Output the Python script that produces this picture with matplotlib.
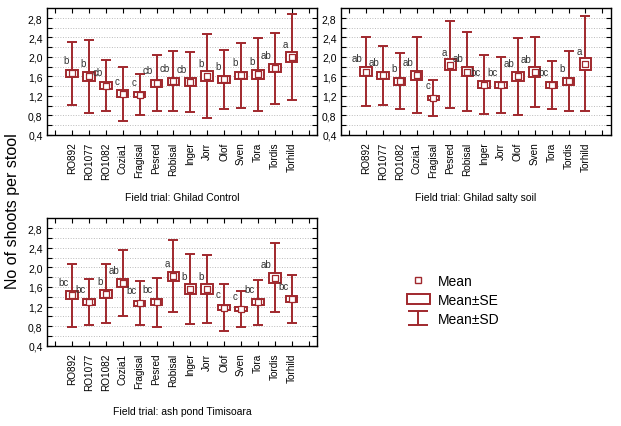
import numpy as np
import matplotlib
matplotlib.use("Agg")
import matplotlib.pyplot as plt
from matplotlib.lines import Line2D
from matplotlib.patches import Patch

plt.rcParams['font.family'] = ['Liberation Sans', 'DejaVu Sans']

# clones (same order in all three trials)
clones = ['RO892', 'RO1077', 'RO1082', 'Cozia1', 'Fragisal', 'Pesred', 'Robisal',
          'Inger', 'Jorr', 'Olof', 'Sven', 'Tora', 'Tordis', 'Torhild']

# Field trial: Ghilad Control
control_mean = [1.66, 1.60, 1.41, 1.24, 1.22, 1.46, 1.50, 1.49, 1.61, 1.54, 1.62, 1.64, 1.77, 2.00]
control_sd = [0.64, 0.75, 0.53, 0.56, 0.42, 0.58, 0.62, 0.62, 0.86, 0.61, 0.67, 0.75, 0.73, 0.88]
control_se = [0.08, 0.10, 0.065, 0.07, 0.05, 0.07, 0.07, 0.08, 0.11, 0.07, 0.08, 0.10, 0.09, 0.11]
control_groups = ['b', 'b', 'cb', 'c', 'c', 'cb', 'cb', 'cb', 'b', 'b', 'b', 'b', 'ab', 'a']

# Field trial: Ghilad salty soil
salty_mean = [1.70, 1.62, 1.50, 1.62, 1.16, 1.84, 1.70, 1.43, 1.42, 1.60, 1.69, 1.42, 1.50, 1.86]
salty_sd = [0.70, 0.61, 0.58, 0.78, 0.37, 0.89, 0.82, 0.61, 0.58, 0.79, 0.72, 0.50, 0.62, 0.98]
salty_se = [0.087, 0.08, 0.07, 0.09, 0.04, 0.11, 0.10, 0.075, 0.065, 0.095, 0.095, 0.055, 0.075, 0.12]
salty_groups = ['ab', 'ab', 'b', 'ab', 'c', 'a', 'ab', 'bc', 'bc', 'ab', 'ab', 'bc', 'b', 'a']

# Field trial: ash pond Timisoara
ash_mean = [1.43, 1.29, 1.46, 1.68, 1.27, 1.29, 1.82, 1.56, 1.56, 1.18, 1.15, 1.29, 1.79, 1.36]
ash_sd = [0.64, 0.47, 0.60, 0.68, 0.45, 0.50, 0.74, 0.72, 0.70, 0.48, 0.36, 0.46, 0.70, 0.49]
ash_se = [0.078, 0.055, 0.075, 0.09, 0.05, 0.06, 0.09, 0.105, 0.11, 0.055, 0.05, 0.06, 0.10, 0.06]
ash_groups = ['bc', 'bc', 'b', 'ab', 'bc', 'bc', 'a', 'b', 'b', 'c', 'c', 'bc', 'ab', 'bc']

red = '#a0282d'


def draw_panel(ax, mean, sd, se, groups, title, title_y):
    x = np.arange(1, len(clones) + 1)
    mean = np.array(mean)
    se = np.array(se)
    # mean +- SD whiskers, mean +- SE box, mean marker
    ax.errorbar(x, mean, yerr=sd, fmt='none', ecolor=red, elinewidth=1.4,
                capsize=3.6, capthick=1.4, zorder=2)
    ax.bar(x, 2 * se, bottom=mean - se, width=0.68, facecolor='white',
           edgecolor=red, linewidth=1.4, zorder=3)
    ax.scatter(x, mean, marker='s', s=13, facecolor='white', edgecolor=red,
               linewidths=0.9, zorder=4)
    for xi, m, g in zip(x, mean, groups):
        ax.text(xi - 0.2, m + 0.27, g, ha='right', va='center', fontsize=7,
                color='#333333')

    ax.set_xlim(-0.5, 15.5)
    ax.set_ylim(0.4, 3.0)
    ax.set_xticks(np.arange(0, 16))
    ax.set_xticklabels([''] + clones + [''], rotation=90, fontsize=7.2)
    yt = np.arange(0.4, 2.81, 0.2)
    ax.set_yticks(yt)
    ax.set_yticklabels([('%.1f' % v).replace('.', ',') if i % 2 == 0 else ''
                        for i, v in enumerate(yt)], fontsize=7.5)
    ax.tick_params(direction='in', length=3.5, width=0.8, top=True, right=True, pad=3)
    ax.tick_params(axis='x', pad=5)
    ax.grid(axis='y', color='#bbbbbb', linestyle=':', linewidth=0.7)
    ax.set_axisbelow(True)
    for s in ax.spines.values():
        s.set_linewidth(1.0)
    ax.set_xlabel(title, fontsize=7.5, va='center')
    ax.xaxis.set_label_coords(0.5, title_y)


fig = plt.figure(figsize=(6.21, 4.27), dpi=100)

ax1 = fig.add_axes([0.0752, 0.6822, 0.4353, 0.296])
ax2 = fig.add_axes([0.5486, 0.6822, 0.4348, 0.296])
ax3 = fig.add_axes([0.0752, 0.188, 0.4353, 0.298])

draw_panel(ax1, control_mean, control_sd, control_se, control_groups,
           'Field trial: Ghilad Control', -0.49)
draw_panel(ax2, salty_mean, salty_sd, salty_se, salty_groups,
           'Field trial: Ghilad salty soil', -0.49)
draw_panel(ax3, ash_mean, ash_sd, ash_se, ash_groups,
           'Field trial: ash pond Timisoara', -0.51)

fig.text(0.02, 0.505, 'No of shoots per stool', rotation=90, ha='center',
         va='center', fontsize=11.5)

# legend
mean_h = Line2D([], [], marker='s', linestyle='none', markersize=4.5,
                markerfacecolor='white', markeredgecolor=red, markeredgewidth=1)
se_h = Patch(facecolor='white', edgecolor=red, linewidth=1.4)
sd_h = ax3.errorbar([np.nan], [np.nan], yerr=[np.nan], fmt='none', ecolor=red,
                    elinewidth=1.4, capsize=7.5, capthick=1.4)
fig.legend([mean_h, se_h, sd_h], ['Mean', 'Mean±SE', 'Mean±SD'],
           loc='upper left', bbox_to_anchor=(0.655, 0.357), frameon=False,
           fontsize=10, handlelength=1.65, handleheight=0.77,
           handletextpad=0.58, labelspacing=0.38, borderpad=0, borderaxespad=0)

fig.savefig('out.png', dpi=100)
